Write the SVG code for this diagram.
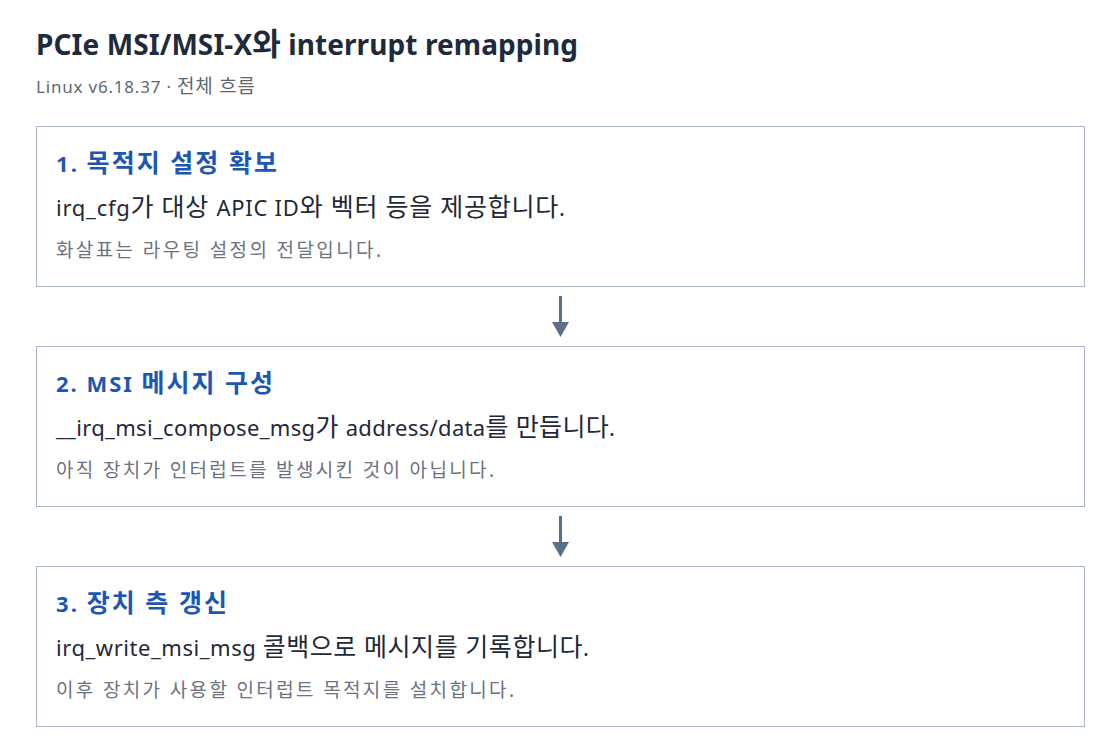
<svg xmlns="http://www.w3.org/2000/svg" width="1120" height="754" viewBox="0 0 1120 754">
<defs>
<style>
text{font-family:"Noto Sans","Noto Sans CJK KR",sans-serif}
.title{font-size:28px;font-weight:700;fill:#1f2a3b}
.sub{font-size:17px;fill:#5f6670}
.box{fill:#ffffff;stroke:#aab6c5;stroke-width:1}
.h{font-size:22px;font-weight:700;fill:#1c57b3}
.b{font-size:22px;fill:#1f2937}
.n{font-size:17px;fill:#6b7280}
.k{font-family:"Noto Sans CJK KR",sans-serif}
.conn{stroke:#5a6f88;stroke-width:3;fill:none}
.head{fill:#5a6f88}
</style>
</defs>
<rect width="1120" height="754" fill="#ffffff"/>
<text class="title" x="36" y="55" textLength="542" lengthAdjust="spacing">PCIe MSI/MSI-X<tspan style="font-size:31px">와</tspan> interrupt remapping</text>
<text class="sub" x="36" y="93" textLength="219" lengthAdjust="spacing">Linux v6.18.37 · <tspan style="font-size:19px">전체 흐름</tspan></text>
<g id="node1">
<rect class="box" x="36.5" y="126.5" width="1048" height="160"/>
<text class="h" x="56" y="172" textLength="221" lengthAdjust="spacing">1. <tspan style="font-size:25px">목적지 설정 확보</tspan></text>
<text class="b" x="56" y="216" textLength="509" lengthAdjust="spacing">irq_cfg<tspan style="font-size:25px">가 대상 </tspan>APIC ID<tspan style="font-size:25px">와 벡터 등을 제공합니다</tspan>.</text>
<text class="n" x="56" y="257" textLength="325" lengthAdjust="spacing" style="font-size:19px">화살표는 라우팅 설정의 전달입니다.</text>
</g>
<g id="node2">
<rect class="box" x="36.5" y="346.5" width="1048" height="160"/>
<text class="h" x="56" y="392" textLength="217" lengthAdjust="spacing">2. MSI <tspan style="font-size:25px">메시지 구성</tspan></text>
<text class="b" x="56" y="436" textLength="559" lengthAdjust="spacing">__irq_msi_compose_msg<tspan style="font-size:25px">가 </tspan>address/data<tspan style="font-size:25px">를 만듭니다</tspan>.</text>
<text class="n" x="56" y="477" textLength="438" lengthAdjust="spacing" style="font-size:19px">아직 장치가 인터럽트를 발생시킨 것이 아닙니다.</text>
</g>
<g id="node3">
<rect class="box" x="36.5" y="566.5" width="1048" height="160"/>
<text class="h" x="56" y="612" textLength="171" lengthAdjust="spacing">3. <tspan style="font-size:25px">장치 측 갱신</tspan></text>
<text class="b" x="56" y="656" textLength="533" lengthAdjust="spacing">irq_write_msi_msg <tspan style="font-size:25px">콜백으로 메시지를 기록합니다</tspan>.</text>
<text class="n" x="56" y="697" textLength="458" lengthAdjust="spacing" style="font-size:19px">이후 장치가 사용할 인터럽트 목적지를 설치합니다.</text>
</g>
<g id="connectors">
<line class="conn" x1="560.5" y1="296" x2="560.5" y2="323"/>
<polygon class="head" points="552,322 569,322 560.5,337"/>
<line class="conn" x1="560.5" y1="516" x2="560.5" y2="543"/>
<polygon class="head" points="552,542 569,542 560.5,557"/>
</g>
</svg>
